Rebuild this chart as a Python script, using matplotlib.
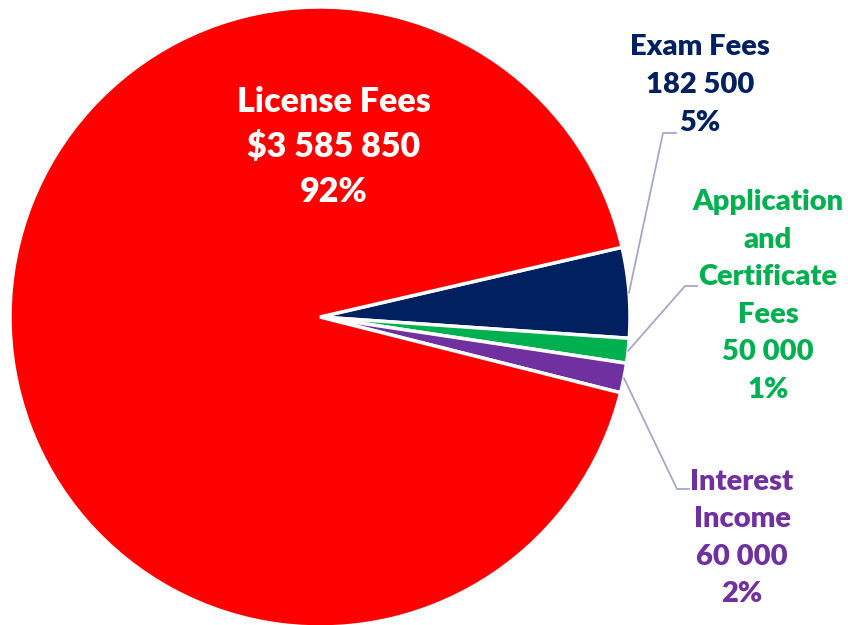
import matplotlib.pyplot as plt
import numpy as np

# revenue breakdown
labels = ["Exam Fees", "Application\nand\nCertificate\nFees", "Interest\nIncome", "License Fees"]
values = [182500, 50000, 60000, 3585850]
value_txt = ["182 500", "50 000", "60 000", "$3 585 850"]
colors = ["#002060", "#00B050", "#7030A0", "#FF0000"]

plt.rcParams['font.family'] = ['Lato', 'DejaVu Sans']

fig = plt.figure(figsize=(8.48, 6.25), dpi=100)
ax = fig.add_axes([0, 0, 1, 1])

wedges, _ = ax.pie(values, colors=colors, startangle=13, counterclock=False,
                   radius=1, center=(0, 0),
                   wedgeprops=dict(edgecolor="white", linewidth=2.5))

# pixel frame: centre at (320, 317), radius 310 px
ax.set_xlim(-320 / 310, (848 - 320) / 310)
ax.set_ylim(-(625 - 317) / 310, 317 / 310)
ax.set_aspect("equal")
ax.axis("off")

def px(x, y):
    return (x - 320) / 310, (317 - y) / 310

total = sum(values)
pcts = [f"{round(v / total * 100)}%" for v in values]

# label positions (pixel) and elbow points for leader lines
text_pos = [(700, 85), (768, 296), (742, 538), (334, 147)]
elbows = [((663, 133), (676, 133)), ((685, 286), (697, 286)), ((677, 489), (689, 489)), None]
sizes = [21, 21, 21, 24.5]
spacing = [1.55, 1.55, 1.55, 1.5]

for i, w in enumerate(wedges):
    mid = np.deg2rad((w.theta1 + w.theta2) / 2)
    col = "white" if i == 3 else colors[i]
    tx, ty = px(*text_pos[i])
    ax.text(tx, ty, f"{labels[i]}\n{value_txt[i]}\n{pcts[i]}", color=col,
            fontsize=sizes[i], fontweight=800, ha="center", va="center",
            linespacing=spacing[i])
    if elbows[i] is not None:
        e1 = px(*elbows[i][0])
        e2 = px(*elbows[i][1])
        ax.plot([np.cos(mid), e1[0], e2[0]], [np.sin(mid), e1[1], e2[1]],
                color="#A6A6C8", lw=1.3)

fig.savefig("out.png", dpi=100)
